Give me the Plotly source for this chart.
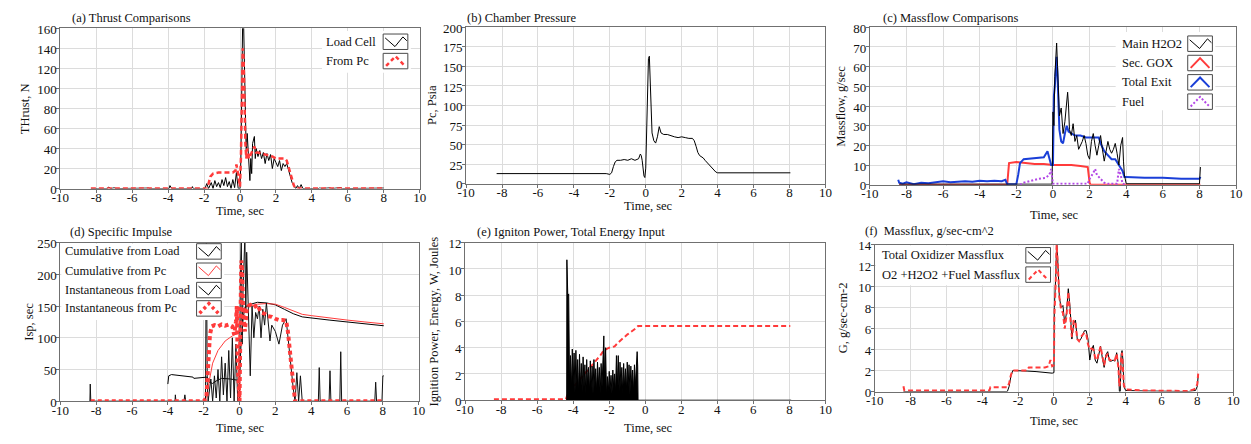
import plotly.graph_objects as go

W, H = 1251, 444
FONT = "Liberation Serif"
RED = "#ff3b3b"
BLUE = "#1a3fd8"
PURPLE = "#b347e6"
TXT = 12.5
TICK = 13

# ---------------- data ----------------
x_tickvals = [-10, -8, -6, -4, -2, 0, 2, 4, 6, 8, 10]
x_ticktext = ["-10", "-8", "-6", "-4", "-2", "0", "2", "4", "6", "8", "10"]

# (a) Thrust
a_loadcell = [(-8.3, 0), (-7.4, 0), (-7.3, 1.5), (-7.2, 0), (-7.0, 0.8), (-6.9, 0), (-5.1, 0.5), (-5.0, 0),
              (-3.95, 0), (-3.9, 3), (-3.8, 0), (-2.7, 0), (-2.65, 2), (-2.6, 0), (-1.95, 0), (-1.85, 5),
              (-1.75, 0), (-1.6, 6), (-1.5, 0), (-1.4, 8), (-1.3, 2), (-1.2, 6), (-1.1, 1), (-1.0, 9),
              (-0.9, 3), (-0.8, 11), (-0.7, 2), (-0.6, 7), (-0.5, 0), (-0.4, 9), (-0.3, 1), (-0.2, 16),
              (-0.1, 0), (0.0, 0), (0.05, 30), (0.1, 80), (0.15, 170), (0.2, 165), (0.25, 120), (0.3, 60),
              (0.35, 33), (0.4, 55), (0.45, 40), (0.5, 20), (0.55, 8), (0.6, 30), (0.65, 15), (0.7, 45),
              (0.8, 52), (0.85, 30), (0.9, 40), (1.0, 32), (1.1, 38), (1.2, 30), (1.3, 36), (1.4, 25),
              (1.5, 35), (1.6, 28), (1.7, 34), (1.8, 20), (1.9, 30), (2.0, 26), (2.1, 22), (2.2, 28),
              (2.3, 18), (2.4, 25), (2.5, 22), (2.6, 25), (2.7, 18), (2.8, 12), (2.9, 6), (3.0, 3),
              (3.1, 0), (3.2, 3), (3.3, 0), (3.4, 4), (3.5, 0), (4.4, 0), (4.45, 1), (4.5, 0), (5.0, 0.7),
              (5.1, 0), (5.6, 1), (5.7, 0), (7.6, 0), (7.7, 0.5), (8.0, 0.5)]
a_frompc = [(-8.3, 0), (-1.85, 0), (-1.75, 5), (-1.65, 12), (-1.5, 15), (-1.2, 16), (-0.8, 16), (-0.4, 16),
            (-0.25, 18), (-0.2, 24), (-0.12, 16), (-0.05, 4), (0.0, 2), (0.05, 30), (0.1, 100), (0.15, 140),
            (0.2, 130), (0.25, 80), (0.3, 45), (0.35, 30), (0.4, 40), (0.5, 30), (0.6, 35), (0.7, 38),
            (0.8, 42), (0.9, 36), (1.0, 36), (1.2, 35), (1.5, 34), (1.8, 32), (2.0, 30), (2.3, 30),
            (2.5, 30), (2.6, 28), (2.7, 22), (2.8, 14), (2.9, 8), (3.0, 3), (3.1, 0), (8.0, 0)]

# (b) Chamber pressure
b_pc = [(-8.3, 13), (-2.2, 13), (-2.0, 12), (-1.9, 14), (-1.8, 22), (-1.7, 28), (-1.6, 30), (-1.4, 30),
        (-1.2, 31), (-1.0, 30), (-0.8, 32), (-0.6, 30), (-0.4, 32), (-0.3, 38), (-0.25, 36), (-0.2, 30),
        (-0.1, 10), (-0.05, 8), (0.0, 20), (0.05, 60), (0.1, 130), (0.15, 160), (0.2, 163), (0.25, 130),
        (0.3, 90), (0.35, 65), (0.45, 55), (0.55, 52), (0.65, 60), (0.75, 73), (0.85, 65), (1.0, 63),
        (1.2, 63), (1.4, 61), (1.6, 60), (1.8, 59), (2.0, 60), (2.2, 59), (2.4, 58), (2.6, 58), (2.7, 55),
        (2.8, 48), (2.9, 40), (3.0, 36), (3.2, 33), (3.3, 30), (3.5, 25), (3.6, 22), (3.8, 18), (3.9, 15),
        (4.0, 14), (8.05, 14)]

# (c) Massflow
c_h2o2 = [(-8.4, 0.3), (-4.0, 0.3), (-0.05, 0.3), (0.0, 37), (0.05, 30), (0.1, 55), (0.15, 68), (0.2, 72),
          (0.25, 60), (0.3, 45), (0.35, 35), (0.45, 39), (0.55, 26), (0.65, 32), (0.75, 40), (0.8, 47),
          (0.85, 40), (0.9, 28), (1.0, 25), (1.1, 31), (1.2, 22), (1.3, 25), (1.4, 18), (1.5, 20), (1.6, 22),
          (1.7, 25), (1.8, 21), (1.9, 15), (2.0, 13), (2.1, 22), (2.2, 26), (2.3, 20), (2.4, 15), (2.5, 20),
          (2.6, 25), (2.7, 18), (2.8, 12), (2.9, 17), (3.0, 22), (3.1, 18), (3.2, 16), (3.3, 18), (3.4, 21),
          (3.5, 16), (3.6, 10), (3.7, 20), (3.8, 24), (3.85, 12), (3.9, 5), (4.0, 0.5), (7.0, 0.3),
          (8.0, 0.5), (8.05, 9)]
c_gox = [(-8.4, 0), (-2.5, 0), (-2.4, 11), (-2.0, 11.5), (-1.5, 11), (-1.0, 10.5), (-0.5, 10.5), (0.0, 10),
         (0.5, 10), (1.0, 10), (1.5, 9.5), (1.9, 9), (2.0, 1), (2.05, 0), (8.05, 0)]
c_exit = [(-8.45, 2.5), (-8.4, 1), (-8.2, 0.5), (-8.0, 1.2), (-7.6, 0.3), (-7.2, 1), (-6.8, 0.8), (-6.4, 1.2),
          (-6.0, 1.8), (-5.6, 1.3), (-5.2, 1.5), (-4.8, 1.8), (-4.4, 1.5), (-4.0, 2), (-3.6, 1.8), (-3.2, 2),
          (-2.8, 1.8), (-2.6, 2.5), (-2.5, 0.3), (-2.0, 0.3), (-1.9, 5), (-1.8, 11), (-1.6, 13), (-1.2, 13.5),
          (-0.8, 14), (-0.5, 14), (-0.3, 17), (-0.2, 13), (-0.1, 10), (0.0, 10), (0.05, 45), (0.1, 50),
          (0.2, 65), (0.25, 55), (0.3, 40), (0.35, 28), (0.45, 22), (0.55, 21), (0.65, 26), (0.75, 30),
          (0.85, 27), (1.0, 26), (1.2, 25), (1.5, 25), (1.8, 24), (2.0, 24), (2.2, 24), (2.5, 24), (2.6, 21),
          (2.8, 17), (3.0, 15), (3.2, 13), (3.4, 13), (3.6, 10), (3.8, 7), (3.9, 4), (4.0, 4), (5.0, 3.5),
          (6.0, 3.5), (7.0, 3), (8.0, 3), (8.05, 4)]
c_fuel = [(-1.8, 0), (-1.6, 1), (-1.2, 2), (-0.8, 3), (-0.4, 3.5), (-0.2, 5), (-0.1, 8), (0.0, 0.5), (1.9, 0.5),
          (2.0, 3), (2.2, 6), (2.3, 8), (2.4, 5), (2.6, 3), (2.8, 1), (3.0, 0.5), (3.5, 0.5), (3.6, 8),
          (3.7, 5), (3.8, 0.5), (4.0, 0)]

# (d) Specific impulse
d_cum_load = [(-4.0, 27), (-3.95, 40), (-3.8, 42), (-3.5, 41), (-3.0, 39), (-2.6, 38), (-2.55, 36), (-2.2, 37),
              (-1.9, 37), (-1.8, 38), (-1.7, 30), (-1.5, 28), (-1.3, 32), (-1.0, 36), (-0.5, 35), (-0.1, 33),
              (0.0, 34), (0.1, 100), (0.2, 130), (0.3, 148), (0.5, 152), (1.0, 156), (1.5, 155), (2.0, 152),
              (2.5, 145), (3.0, 138), (3.5, 133), (4.0, 131), (5.0, 128), (6.0, 125), (7.0, 122), (8.05, 119)]
d_cum_pc = [(-1.9, 0), (-1.7, 30), (-1.5, 60), (-1.2, 80), (-0.8, 95), (-0.4, 103), (-0.1, 106), (0.0, 108),
            (0.1, 130), (0.3, 148), (0.5, 150), (1.0, 153), (1.5, 154), (2.0, 153), (2.5, 148), (3.0, 142),
            (3.5, 137), (4.0, 135), (5.0, 131), (6.0, 128), (7.0, 125), (8.05, 122)]
d_inst_load = [(-8.35, 0), (-8.33, 27), (-8.3, 0), (-3.6, 0), (-3.58, 10), (-3.55, 0), (-3.1, 0), (-3.05, 10),
               (-3.0, 0), (-1.9, 0), (-1.85, 260), (-1.8, 30), (-1.75, 0), (-1.6, 35), (-1.5, 0), (-1.4, 40),
               (-1.3, 5), (-1.2, 50), (-1.1, 0), (-1.0, 70), (-0.9, 10), (-0.8, 60), (-0.7, 0), (-0.6, 80),
               (-0.5, 5), (-0.4, 100), (-0.3, 0), (-0.2, 90), (-0.1, 0), (0.0, 0), (0.05, 200), (0.1, 260),
               (0.15, 90), (0.2, 180), (0.3, 260), (0.35, 140), (0.4, 235), (0.5, 120), (0.6, 40), (0.7, 150),
               (0.8, 100), (0.9, 140), (1.0, 130), (1.1, 150), (1.2, 100), (1.3, 145), (1.4, 120), (1.5, 155),
               (1.6, 130), (1.7, 95), (1.8, 120), (2.0, 110), (2.2, 90), (2.4, 120), (2.6, 130), (2.7, 100),
               (2.8, 70), (2.9, 50), (3.0, 20), (3.1, 0), (3.2, 45), (3.3, 0), (3.4, 40), (3.5, 0), (4.4, 0),
               (4.45, 53), (4.5, 0), (5.0, 0), (5.05, 48), (5.1, 0), (5.6, 0), (5.65, 78), (5.7, 0), (7.55, 0),
               (7.6, 30), (7.65, 0), (7.95, 0), (8.0, 40), (8.05, 40)]
d_inst_pc = [(-8.3, 0), (-2.0, 0), (-1.85, 5), (-1.75, 60), (-1.65, 105), (-1.55, 118), (-1.4, 120),
             (-1.2, 118), (-1.0, 121), (-0.8, 119), (-0.6, 121), (-0.4, 118), (-0.3, 105), (-0.2, 125),
             (-0.15, 150), (-0.1, 60), (-0.05, 0), (0.0, 0), (0.05, 120), (0.1, 222), (0.15, 205), (0.2, 140),
             (0.3, 110), (0.4, 145), (0.5, 150), (0.6, 152), (0.8, 148), (1.0, 152), (1.2, 140), (1.4, 138),
             (1.6, 134), (1.8, 133), (2.0, 130), (2.2, 128), (2.4, 128), (2.6, 127), (2.7, 110), (2.8, 80),
             (2.9, 50), (3.0, 20), (3.1, 0), (8.05, 0)]

# (e) Ignition power / energy
e_power = [(-4.36, 0), (-4.35, 10.7), (-4.30, 8.0), (-4.25, 8.1), (-4.20, 1.0), (-4.15, 3.4),
           (-4.10, 0.8), (-4.05, 3.9), (-4.00, 1.2), (-3.95, 3.6), (-3.90, 0.6), (-3.85, 3.8), (-3.80, 1.0),
           (-3.75, 3.1), (-3.70, 0.5), (-3.65, 3.5), (-3.60, 1.1), (-3.55, 2.8), (-3.50, 0.6), (-3.45, 3.3),
           (-3.40, 1.0), (-3.35, 2.7), (-3.30, 0.5), (-3.25, 3.1), (-3.20, 1.2), (-3.15, 2.5), (-3.10, 0.6),
           (-3.05, 3.0), (-3.00, 0.9), (-2.95, 2.6), (-2.90, 0.5), (-2.85, 3.1), (-2.80, 1.0), (-2.75, 2.4),
           (-2.70, 0.6), (-2.65, 2.9), (-2.60, 1.1), (-2.55, 2.5), (-2.50, 0.5), (-2.45, 2.8), (-2.40, 1.0),
           (-2.35, 2.6), (-2.30, 4.9), (-2.25, 1.2), (-2.20, 4.0), (-2.15, 0.3), (-2.10, 1.8), (-2.05, 0.6),
           (-2.00, 2.2), (-1.95, 0.8), (-1.90, 1.9), (-1.85, 0.5), (-1.80, 2.3), (-1.75, 0.9), (-1.70, 2.0),
           (-1.65, 0.6), (-1.60, 3.4), (-1.55, 1.0), (-1.50, 3.4), (-1.45, 0.7), (-1.40, 2.9), (-1.35, 1.0),
           (-1.30, 2.5), (-1.25, 0.5), (-1.20, 2.8), (-1.15, 1.0), (-1.10, 2.4), (-1.05, 0.6), (-1.00, 2.9),
           (-0.95, 1.0), (-0.90, 2.7), (-0.85, 0.5), (-0.80, 2.6), (-0.75, 1.0), (-0.70, 2.3), (-0.65, 0.6),
           (-0.60, 2.7), (-0.55, 1.1), (-0.50, 3.0), (-0.45, 3.7), (-0.42, 2.6), (-0.40, 0), (8.1, 0)]
e_energy = [(-8.4, 0.08), (-4.4, 0.08), (-4.3, 0.5), (-4.0, 1.0), (-3.5, 1.8), (-3.0, 2.6), (-2.5, 3.4),
            (-2.3, 3.8), (-2.0, 4.0), (-1.7, 4.1), (-1.5, 4.4), (-1.0, 5.0), (-0.5, 5.5), (-0.4, 5.65),
            (8.05, 5.65)]

# (f) Massflux
f_total_ox = [(-8.4, 0), (-2.6, 0), (-2.5, 0.5), (-2.4, 1.5), (-2.3, 2.0), (-2.0, 2.0), (-1.5, 1.95),
              (-1.0, 1.9), (-0.5, 1.8), (-0.1, 1.75), (0.0, 1.8), (0.02, 8), (0.1, 11), (0.15, 14.5),
              (0.2, 13), (0.3, 9), (0.4, 8), (0.5, 8.2), (0.6, 6.5), (0.7, 7.5), (0.8, 9.8), (0.9, 8), (1.0, 5),
              (1.1, 6.5), (1.2, 6.8), (1.3, 5), (1.4, 4.8), (1.5, 5), (1.7, 5.8), (1.8, 5.8), (1.9, 5), (2.0, 3),
              (2.1, 4), (2.2, 4.4), (2.3, 3), (2.4, 2.7), (2.5, 3.5), (2.6, 4.3), (2.7, 3.2), (2.8, 2.3),
              (2.9, 3.5), (3.0, 3.8), (3.1, 2.9), (3.2, 2.9), (3.3, 3.0), (3.4, 2.9), (3.5, 3.7), (3.6, 2.5),
              (3.65, 0), (3.7, 0), (3.75, 3.5), (3.8, 3.9), (3.85, 3), (3.9, 0.5), (4.0, 0.1), (5.0, 0.05),
              (7.5, 0), (7.9, 0.1), (8.0, 0.5), (8.05, 1.5)]
f_o2_h2o2_fuel = [(-8.4, 0.5), (-8.35, 0.1), (-3.6, 0.1), (-3.55, 0.4), (-2.6, 0.4), (-2.5, 0.8), (-2.4, 1.6),
                  (-2.3, 2.0), (-1.5, 2.0), (-1.4, 2.3), (-0.5, 2.3), (-0.3, 2.4), (-0.2, 3.0), (-0.1, 2.4),
                  (0.0, 2.5), (0.02, 7), (0.1, 10.5), (0.15, 14), (0.2, 12.5), (0.3, 9), (0.4, 7.8),
                  (0.5, 7.5), (0.6, 6), (0.7, 7.2), (0.8, 9.5), (0.9, 7.5), (1.0, 5.2), (1.1, 6.8), (1.2, 6.5),
                  (1.3, 5), (1.4, 4.8), (1.5, 5.2), (1.7, 5.6), (1.8, 5.5), (1.9, 4.5), (2.0, 4), (2.1, 4.1),
                  (2.2, 4.0), (2.3, 3.2), (2.4, 3), (2.5, 3.8), (2.6, 4.3), (2.7, 3.4), (2.8, 2.5), (2.9, 3.3),
                  (3.0, 3.6), (3.1, 3), (3.2, 3), (3.3, 3.1), (3.4, 3), (3.5, 3.6), (3.6, 2.2), (3.65, 0.5),
                  (3.7, 1), (3.75, 3.4), (3.8, 3.7), (3.9, 0.6), (4.0, 0.2), (5.0, 0.1), (7.5, 0.05),
                  (7.8, 0.2), (7.9, 0.3), (8.0, 0.7), (8.05, 1.7)]

# ---------------- layout helpers ----------------
def PX(x):
    return x / W


def PY(y):
    return 1 - y / H


fig = go.Figure()

# panel specs: (axis suffix, x px range, y px range, y range, y dtick)
panels = {
    "a": ("", (52, 416), (23, 189), (0, 160), 20),
    "b": ("2", (463, 827), (22, 184), (0, 200), 25),
    "c": ("3", (872, 1243), (22, 185), (0, 80), 10),
    "d": ("4", (52, 415), (245, 409), (0, 250), 50),
    "e": ("5", (462, 827), (245, 408), (0, 12), 2),
    "f": ("6", (877, 1240), (247, 399), (0, 14), 2),
}

GRID = "#dcdcdc"
AXC = "#707070"
for key, (suf, (x0, x1), (y0, y1), yr, dt) in panels.items():
    fig.layout["xaxis" + suf] = dict(
        domain=[PX(x0), PX(x1)], range=[-10, 10], tickvals=x_tickvals, ticktext=x_ticktext,
        anchor="y" + suf, showgrid=True, gridcolor=GRID, gridwidth=1, zeroline=False,
        showline=True, linecolor=AXC, linewidth=1, mirror=True, ticks="outside", ticklen=3,
        tickcolor=AXC, ticklabelstandoff=-6,
        tickfont=dict(family=FONT, size=TICK, color="#111"), fixedrange=True)
    fig.layout["yaxis" + suf] = dict(
        domain=[PY(y1), PY(y0)], range=list(yr), dtick=dt, tick0=0, anchor="x" + suf,
        showgrid=True, gridcolor=GRID, gridwidth=1, zeroline=False, showline=True, linecolor=AXC,
        linewidth=1, mirror=True, ticks="outside", ticklen=3, tickcolor=AXC, ticklabelstandoff=-3,
        ticklabelshift=1,
        tickfont=dict(family=FONT, size=TICK, color="#111"), fixedrange=True)


def add(pts, suf, color, width, dash="solid", fill=None):
    xs = [p[0] for p in pts]
    ys = [p[1] for p in pts]
    fig.add_trace(go.Scatter(x=xs, y=ys, mode="lines", xaxis="x" + suf, yaxis="y" + suf,
                             line=dict(color=color, width=width, dash=dash),
                             fill=fill, fillcolor=color if fill else None,
                             showlegend=False, hoverinfo="skip"))


# (a)
add(a_loadcell, "", "#000000", 1)
add(a_frompc, "", RED, 2.5, "5px,3px")
# (b)
add(b_pc, "2", "#000000", 1)
# (c)
add(c_gox, "3", RED, 2)
add(c_exit, "3", BLUE, 2)
add(c_h2o2, "3", "#000000", 1)
add(c_fuel, "3", PURPLE, 2, "2px,2px")
# (d)
add(d_cum_load, "4", "#000000", 1)
add(d_cum_pc, "4", RED, 1)
add(d_inst_load, "4", "#111111", 1)
add(d_inst_pc, "4", RED, 4, "4px,3px")
# (e)
add(e_energy, "5", RED, 2, "5px,3px")
add(e_power, "5", "#000000", 1, fill="tozeroy")
# (f)
add(f_total_ox, "6", "#000000", 1)
add(f_o2_h2o2_fuel, "6", RED, 2, "5px,3px")

annotations = []
shapes = []


def text(s, x, y, anchor="left", angle=0, size=TXT):
    annotations.append(dict(text=s, x=PX(x), y=PY(y), xref="paper", yref="paper", showarrow=False,
                            xanchor=anchor, yanchor="middle", textangle=angle, borderpad=0,
                            font=dict(family=FONT, size=size, color="#111")))


# panel titles
text("(a) Thrust Comparisons", 63, 12)
text("(b) Chamber Pressure", 463, 12)
text("(c) Massflow Comparisons", 884, 12)
text("(d) Specific Impulse", 61, 234)
text("(e) Igniton Power, Total Energy Input", 473, 234)
text("(f)  Massflux, g/sec-cm^2", 866, 233)

# axis titles
for xc, yc in [(235, 212), (648, 207), (1059, 216), (235, 437), (648, 437), (1059, 430)]:
    text("Time, sec", xc, yc, anchor="center")
text("THrust, N", 17, 106, anchor="center", angle=-90)
text("Pc, Psia", 428, 103, anchor="center", angle=-90)
text("Massflow, g/sec", 843, 104, anchor="center", angle=-90)
text("Isp, sec", 20, 327, anchor="center", angle=-90)
text("Ignition Power, Energy, W, Joules", 430, 327, anchor="center", angle=-90)
text("G, g/sec-cm-2", 845, 323, anchor="center", angle=-90)


def rect(x0, y0, x1, y1, fill="white", line=None):
    shapes.append(dict(type="rect", xref="paper", yref="paper", x0=PX(x0), x1=PX(x1), y0=PY(y1), y1=PY(y0),
                       fillcolor=fill, line=dict(width=1 if line else 0, color=line or "white"),
                       layer="above"))


def icon(x0, y0, x1, y1, kind, color, width, dash="solid"):
    rect(x0, y0, x1, y1, "white", "#4a4a4a")
    if kind == "v":
        pts = [(x0 + 2, y0 + 4), (x0 + 12, y1 - 3), (x1 - 5, y0 + 3), (x1 - 1, y0 + 7)]
    else:
        pts = [(x0 + 3, y1 - 3), (x0 + 12.5, y0 + 3), (x1 - 3, y1 - 3)]
    path = "M " + " L ".join(f"{PX(px):.5f},{PY(py):.5f}" for px, py in pts)
    shapes.append(dict(type="path", path=path, xref="paper", yref="paper",
                       line=dict(color=color, width=width, dash=dash), layer="above"))


def legend(bg, tx, bx, rows):
    rect(*bg)
    for label, yc, kind, color, width, dash in rows:
        text(label, tx, yc)
        icon(bx, yc - 8, bx + 25, yc + 8, kind, color, width, dash)


legend((317, 26, 407, 69), 320, 379, [
    ("Load Cell", 37, "v", "#000", 1, "solid"),
    ("From Pc", 57, "^", RED, 2.5, "4px,3px")])
legend((1121, 27, 1222, 108), 1126, 1194, [
    ("Main H2O2", 39, "v", "#000", 1, "solid"),
    ("Sec. GOX", 59, "^", RED, 2, "solid"),
    ("Total Exit", 79, "^", BLUE, 2, "solid"),
    ("Fuel", 99, "^", PURPLE, 2, "2px,2px")])
legend((53, 246, 218, 325), 56, 190, [
    ("Cumulative from Load", 254, "v", "#000", 1, "solid"),
    ("Cumulative from Pc", 274, "v", RED, 1, "solid"),
    ("Instantaneous from Load", 294, "v", "#000", 1, "solid"),
    ("Instantaneous from Pc", 313, "^", RED, 3.5, "3px,3px")])
legend((878, 248, 1058, 289), 883, 1030, [
    ("Total Oxidizer Massflux", 258, "v", "#000", 1, "solid"),
    ("O2 +H2O2 +Fuel Massflux", 278, "^", RED, 2, "4px,3px")])

fig.update_layout(width=W, height=H, margin=dict(l=0, r=0, t=0, b=0), paper_bgcolor="white",
                  plot_bgcolor="white", showlegend=False, annotations=annotations, shapes=shapes)

fig.write_html("out.html")
